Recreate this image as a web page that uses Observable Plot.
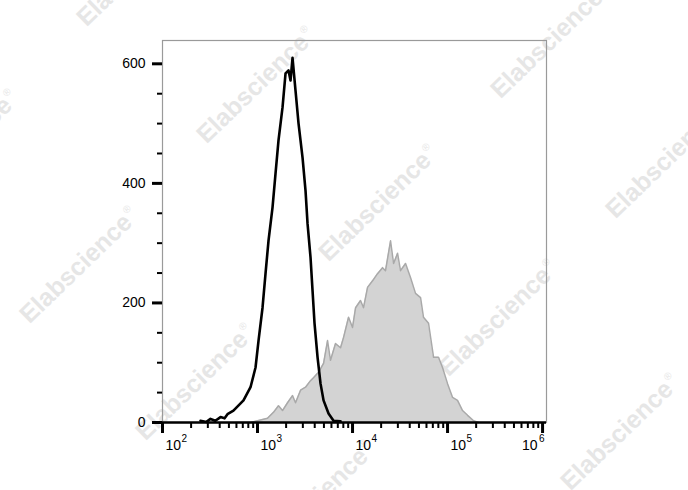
<!DOCTYPE html>
<html>
<head>
<meta charset="utf-8">
<script src="https://cdn.jsdelivr.net/npm/d3@7"></script>
<script src="https://cdn.jsdelivr.net/npm/@observablehq/plot@0.6"></script>
<style>
  html, body { margin: 0; padding: 0; background: white; }
  #wrap { position: relative; width: 688px; height: 490px; overflow: hidden; background: white; }
  #wm { position: absolute; left: 0; top: 0; width: 688px; height: 490px; }
  #wm span {
    position: absolute; white-space: nowrap;
    font-family: "Liberation Sans", Arial, sans-serif; font-weight: bold; font-size: 25px;
    color: #e6e6e6; transform: translate(-50%, -50%) rotate(-44deg);
  }
  #wm span sup { font-size: 10px; font-weight: normal; vertical-align: 12px; margin-left: 2px; }
  #chart { position: absolute; left: 0; top: 0; }
</style>
</head>
<body>
<div id="wrap">
  <div id="wm"></div>
  <div id="chart"></div>
</div>
<script>
// Unstained / isotype control (black outline)
const blackX = [251, 290, 320, 360, 408, 450, 483, 558, 712, 844, 953, 1025, 1129, 1214, 1305, 1439, 1546, 1663, 1833, 1972, 2120, 2225, 2336, 2512, 2703, 2978, 3201, 3360, 3614, 3793, 3981, 4285, 4606, 4954, 5590, 6310, 7478];
const blackCount = [3, 1, 6, 3, 9, 7, 14, 20, 37, 59, 92, 137, 192, 249, 304, 360, 416, 472, 527, 584, 589, 572, 610, 555, 500, 443, 388, 333, 276, 221, 166, 109, 65, 37, 15, 3, 2];

// Stained sample (grey filled)
const grayX = [586, 844, 953, 1274, 1472, 1663, 1833, 2069, 2336, 2512, 2837, 3201, 3614, 3882, 4385, 4954, 5458, 5864, 6622, 7478, 8037, 9078, 10000, 10765, 12140, 13052, 14388, 16255, 18323, 20701, 22233, 25119, 27040, 29785, 31989, 36141, 40832, 46028, 52000, 55847, 63096, 71285, 80353, 88509, 100000, 112980, 127350, 143880, 162550, 187930, 211840];
const grayCount = [0, 0, 2, 7, 17, 28, 20, 33, 45, 33, 54, 59, 70, 75, 84, 99, 137, 104, 132, 125, 142, 176, 159, 192, 204, 192, 226, 237, 249, 259, 254, 304, 266, 283, 254, 266, 242, 216, 209, 176, 166, 109, 109, 92, 65, 42, 37, 20, 12, 3, 0];

// Axis ticks
const yMajor = [0, 200, 400, 600];
const yMinor = [50, 100, 150, 250, 300, 350, 450, 500, 550];
const xMajor = [1e2, 1e3, 1e4, 1e5, 1e6];
const xExponents = ["2", "3", "4", "5", "6"];
const minorMultipliers = [2, 3, 4, 5, 6, 7, 8, 9];
const xMinor = xMajor.slice(0, 4).flatMap(d => minorMultipliers.map(k => k * d));

const black = blackX.map((x, i) => ({x, count: blackCount[i]}));
const gray = grayX.map((x, i) => ({x, count: grayCount[i]}));
const xLabels = xMajor.map((v, i) => ({v, e: xExponents[i]}));

// Watermark
const wmCenters = [[136,-32],[256,85],[378,203],[498,318],[620,432],[550,40],[665,160],[-41,148],[79,265],[195,382],[315,499]];
const wm = document.getElementById("wm");
for (const [cx, cy] of wmCenters) {
  const s = document.createElement("span");
  s.style.left = cx + "px"; s.style.top = cy + "px";
  s.innerHTML = "Elabscience<sup>®</sup>";
  wm.appendChild(s);
}

const font = "'Liberation Sans', Arial, sans-serif";
const chart = Plot.plot({
  width: 688, height: 490,
  marginLeft: 162, marginRight: 142, marginTop: 40, marginBottom: 68,
  style: {background: "transparent", fontFamily: font, fontSize: "14px", color: "black"},
  x: {type: "log", domain: [1e2, 1.1e6], label: null},
  y: {domain: [0, 639], label: null},
  marks: [
    Plot.frame({stroke: "#9a9a9a", strokeWidth: 1.2}),
    Plot.areaY(gray, {x: "x", y: "count", fill: "#d3d3d3"}),
    Plot.lineY(gray, {x: "x", y: "count", stroke: "#a9a9a9", strokeWidth: 1.5}),
    Plot.lineY(black, {x: "x", y: "count", stroke: "black", strokeWidth: 2.6}),
    Plot.ruleY([0], {stroke: "black", strokeWidth: 2.5}),
    Plot.axisY(yMajor, {tickSize: 10, tickPadding: 7, strokeWidth: 3, fontSize: 14, label: null}),
    Plot.axisY(yMinor, {tickSize: 5, strokeWidth: 2, fill: "none", label: null}),
    Plot.axisX(xMajor, {tickSize: 11, strokeWidth: 3, fill: "none", label: null}),
    Plot.axisX(xMinor, {tickSize: 6, strokeWidth: 2, fill: "none", label: null}),
    Plot.text(xLabels.slice(0, 4), {x: "v", frameAnchor: "bottom", text: () => "10", textAnchor: "start", dx: 3, dy: 27, fontSize: 14}),
    Plot.text(xLabels.slice(0, 4), {x: "v", frameAnchor: "bottom", text: "e", textAnchor: "start", dx: 19, dy: 19, fontSize: 10}),
    Plot.text(xLabels.slice(4), {x: "v", frameAnchor: "bottom", text: () => "10", textAnchor: "end", dx: -5, dy: 27, fontSize: 14}),
    Plot.text(xLabels.slice(4), {x: "v", frameAnchor: "bottom", text: "e", textAnchor: "end", dx: 2, dy: 19, fontSize: 10})
  ]
});
document.getElementById("chart").appendChild(chart);
</script>
</body>
</html>
